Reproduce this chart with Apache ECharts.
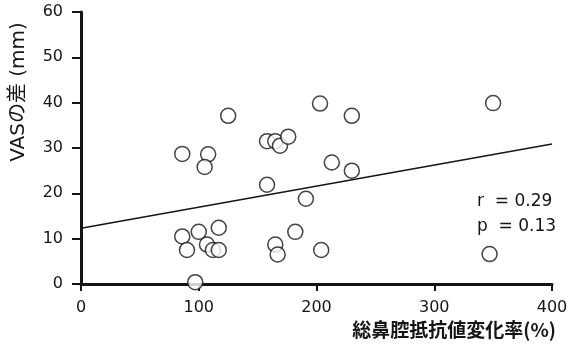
<!DOCTYPE html>
<html><head><meta charset="utf-8">
<script src="https://cdn.jsdelivr.net/npm/echarts@6/dist/echarts.min.js"></script>
<style>html,body{margin:0;padding:0;background:#fff}#c{width:573px;height:350px}</style>
</head><body><div id="c"></div>
<script>
const xValues = [86, 108, 105, 125, 158, 165, 169, 176, 158, 191, 203, 213, 230, 230, 350, 347, 204, 182, 165, 167, 86, 90, 100, 117, 107, 112, 117, 97];
const yValues = [28.7, 28.6, 25.8, 37.1, 31.5, 31.5, 30.5, 32.5, 21.9, 18.8, 39.8, 26.8, 37.1, 25.0, 39.9, 6.6, 7.5, 11.5, 8.7, 6.5, 10.5, 7.5, 11.5, 12.4, 8.7, 7.5, 7.5, 0.4];
const fitX = [0, 400];
const fitY = [12.3, 30.9];
const xTicks = [0, 100, 200, 300, 400];
const yTicks = [0, 10, 20, 30, 40, 50, 60];
const statsText = ['r  = 0.29', 'p  = 0.13'];

const font = '"DejaVu Sans", "Noto Sans CJK JP", sans-serif';
const jfont = '"Noto Sans CJK JP", "DejaVu Sans", sans-serif';
const ink = '#151515';
const chart = echarts.init(document.getElementById('c'), null, {renderer: 'canvas'});
chart.setOption({
  backgroundColor: '#fff',
  animation: false,
  grid: {left: 81, right: 21, top: 12, bottom: 66},
  xAxis: {
    type: 'value', min: xTicks[0], max: xTicks[xTicks.length - 1], interval: 100,
    axisLine: {show: true, lineStyle: {color: ink, width: 3}},
    axisTick: {show: true, length: 7, lineStyle: {color: ink, width: 2}},
    axisLabel: {color: ink, fontSize: 16, fontFamily: font, margin: 16},
    splitLine: {show: false}
  },
  yAxis: {
    type: 'value', min: yTicks[0], max: yTicks[yTicks.length - 1], interval: 10,
    axisLine: {show: true, lineStyle: {color: ink, width: 3}},
    axisTick: {show: true, length: 9, lineStyle: {color: ink, width: 2}},
    axisLabel: {color: ink, fontSize: 16, fontFamily: font, margin: 18},
    splitLine: {show: false}
  },
  series: [
    {
      type: 'line', data: fitX.map((x, i) => [x, fitY[i]]), symbol: 'none',
      lineStyle: {color: ink, width: 1.5}, z: 1
    },
    {
      type: 'scatter', data: xValues.map((x, i) => [x, yValues[i]]),
      symbol: 'circle', symbolSize: 15,
      itemStyle: {color: '#fff', borderColor: ink, borderWidth: 1.5}, z: 3
    }
  ],
  graphic: [
    {type: 'text', x: 19, y: 92, rotation: Math.PI / 2,
      style: {text: 'VASの差 (mm)', fill: ink, font: '20px ' + font, align: 'center', verticalAlign: 'middle'}},
    {type: 'text', x: 556, y: 330,
      style: {text: '総鼻腔抵抗値変化率(%)', fill: ink, font: 'bold 19px ' + jfont, align: 'right', verticalAlign: 'middle'}},
    {type: 'text', x: 477, y: 202,
      style: {text: statsText[0], fill: ink, font: '17px ' + font, align: 'left', verticalAlign: 'middle'}},
    {type: 'text', x: 477, y: 227,
      style: {text: statsText[1], fill: ink, font: '17px ' + font, align: 'left', verticalAlign: 'middle'}}
  ]
});
</script></body></html>
